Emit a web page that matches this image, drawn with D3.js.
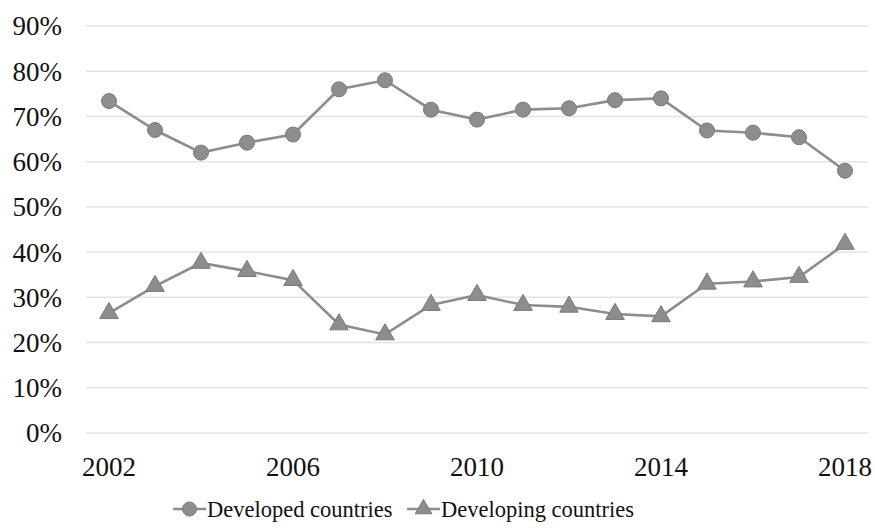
<!DOCTYPE html>
<html>
<head>
<meta charset="utf-8">
<script src="https://cdn.jsdelivr.net/npm/d3@7"></script>
<style>
  html, body { margin: 0; padding: 0; background: #fff; }
</style>
</head>
<body>
<div id="chart"></div>
<script>
// Share of something by country group, 2002–2018 (two gray series, Excel-style).

const years = d3.range(2002, 2019).map(String);
const developed = [73.4, 67.0, 62.0, 64.2, 66.0, 76.0, 78.0, 71.5, 69.3, 71.5, 71.8, 73.6, 74.0, 66.9, 66.4, 65.4, 58.0];
const developing = [26.5, 32.5, 37.6, 35.8, 33.8, 24.0, 21.8, 28.3, 30.5, 28.3, 27.9, 26.3, 25.8, 33.0, 33.5, 34.5, 41.8];
const yTicks = [0, 10, 20, 30, 40, 50, 60, 70, 80, 90];
const xLabels = ['2002', '2006', '2010', '2014', '2018'];
const seriesNames = ['Developed countries', 'Developing countries'];

const W = 875, H = 529;
const m = { top: 26, right: 7, bottom: 96, left: 86 };
const GRAY = '#8d8d8d';
const EDGE = '#7a7a7a';
const FONT = '"Liberation Serif"';

const svg = d3.select('body').append('svg')
  .attr('width', W).attr('height', H);

const x = d3.scaleBand().domain(years).range([m.left, W - m.right]);
const y = d3.scaleLinear().domain([0, 90]).range([H - m.bottom, m.top]);
const cx = (d) => x(d) + x.bandwidth() / 2;

// gridlines
svg.append('g').selectAll('line')
  .data(yTicks)
  .join('line')
  .attr('x1', m.left).attr('x2', W - m.right)
  .attr('y1', (d) => y(d)).attr('y2', (d) => y(d))
  .attr('stroke', '#e4e4e4').attr('stroke-width', 1.5);

// y labels
svg.append('g').selectAll('text')
  .data(yTicks)
  .join('text')
  .attr('x', 62).attr('y', (d) => y(d))
  .attr('dy', '0.35em')
  .attr('text-anchor', 'end')
  .attr('font-size', 27)
  .style('font-family', FONT)
  .attr('fill', '#111')
  .text((d) => d + '%');

// x labels
svg.append('g').selectAll('text')
  .data(xLabels)
  .join('text')
  .attr('x', cx).attr('y', H - m.bottom + 43)
  .attr('text-anchor', 'middle')
  .attr('font-size', 27)
  .style('font-family', FONT)
  .attr('fill', '#111')
  .text((d) => d);

const line = d3.line().x((d, i) => cx(years[i])).y((d) => y(d));
const tri = d3.symbol(d3.symbolTriangle, 150);

function drawSeries(vals, shape) {
  const g = svg.append('g');
  g.append('path').datum(vals)
    .attr('d', line)
    .attr('fill', 'none')
    .attr('stroke', GRAY)
    .attr('stroke-width', 2.6);
  const pts = g.selectAll('.pt').data(vals).join(shape === 'circle' ? 'circle' : 'path');
  if (shape === 'circle') {
    pts.attr('cx', (d, i) => cx(years[i])).attr('cy', (d) => y(d)).attr('r', 7.5);
  } else {
    pts.attr('d', tri).attr('transform', (d, i) => `translate(${cx(years[i])},${y(d)})`);
  }
  pts.attr('fill', GRAY).attr('stroke', EDGE).attr('stroke-width', 1);
}

drawSeries(developed, 'circle');
drawSeries(developing, 'triangle');

// legend
const lg = svg.append('g');
const items = [
  { name: seriesNames[0], shape: 'circle', x0: 173 },
  { name: seriesNames[1], shape: 'triangle', x0: 407 },
];
const ly = 517;
for (const it of items) {
  lg.append('line')
    .attr('x1', it.x0).attr('x2', it.x0 + 33)
    .attr('y1', ly - 8).attr('y2', ly - 8)
    .attr('stroke', GRAY).attr('stroke-width', 2.6);
  if (it.shape === 'circle') {
    lg.append('circle').attr('cx', it.x0 + 16.5).attr('cy', ly - 8).attr('r', 7)
      .attr('fill', GRAY).attr('stroke', EDGE);
  } else {
    lg.append('path').attr('d', d3.symbol(d3.symbolTriangle, 120))
      .attr('transform', `translate(${it.x0 + 16.5},${ly - 8})`)
      .attr('fill', GRAY).attr('stroke', EDGE);
  }
  lg.append('text')
    .attr('x', it.x0 + 34).attr('y', ly)
    .attr('font-size', 22.5)
    .style('font-family', FONT)
    .attr('fill', '#111')
    .text(it.name);
}
</script>
</body>
</html>
